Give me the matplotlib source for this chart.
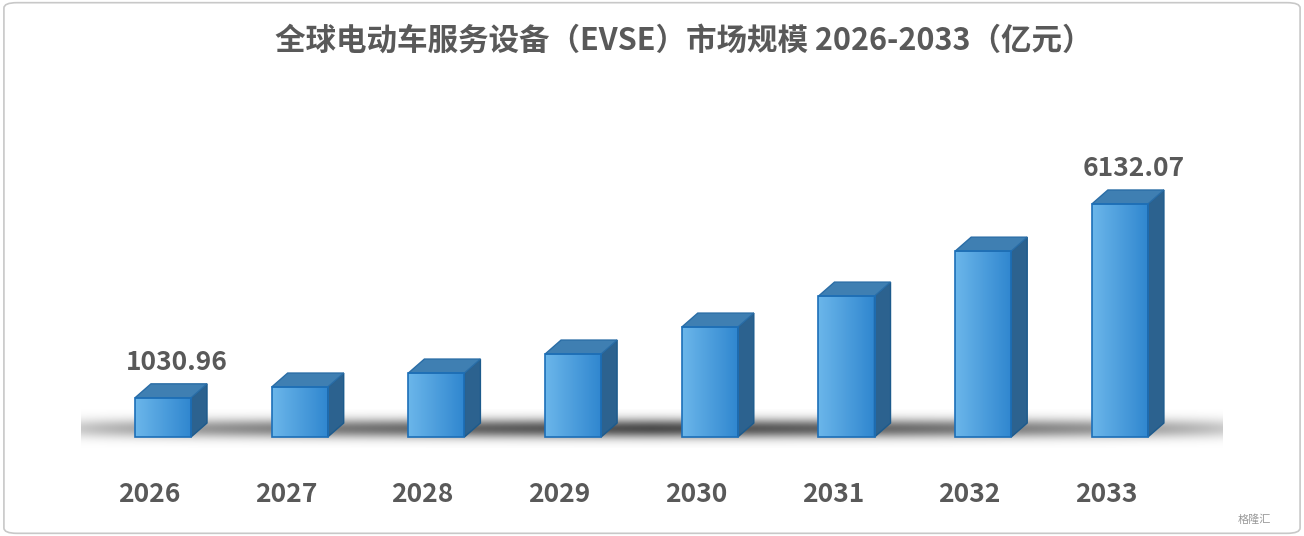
import matplotlib.pyplot as plt
import numpy as np
from matplotlib.patches import Polygon, FancyBboxPatch
from matplotlib.colors import LinearSegmentedColormap

plt.rcParams['font.family'] = ['Noto Sans CJK SC', 'DejaVu Sans']

years = ['2026', '2027', '2028', '2029', '2030', '2031', '2032', '2033']
values = [1030.96, 1315, 1683, 2183, 2893, 3708, 4891, 6132.07]
shown_labels = {0: '1030.96', 7: '6132.07'}

W, H = 1304, 536
fig = plt.figure(figsize=(W / 100, H / 100), dpi=100)
ax = fig.add_axes([0, 0, 1, 1])
px_x = 136.7          # pixels per category
px_y = 0.038          # pixels per value unit
base_px = 99
ax.set_xlim(-163 / px_x, (W - 163) / px_x)
ax.set_ylim(-base_px / px_y, (H - base_px) / px_y)
ax.axis('off')

# outer border
fig.patches.append(FancyBboxPatch((0.003, 0.005), 0.994, 0.99, boxstyle='round,pad=0,rounding_size=0.01',
                                  transform=fig.transFigure, fill=False, ec='#c8c8c8', lw=1.2))

# floor shadow
yy = np.linspace(0, 1, 60)[:, None]
xx = np.linspace(0, 1, 400)[None, :]
shade = np.exp(-((yy - 0.5) / 0.25) ** 2) * np.clip(1 - np.abs(xx - 0.5) * 1.9, 0, 1) ** 0.4
rgba = np.zeros(shade.shape + (4,))
rgba[..., 3] = shade * 0.7
ax.imshow(rgba, extent=(-0.6, 7.75, -300, 700), aspect='auto', zorder=1, origin='lower')

bw = 0.41
dx, dy = 0.117, 368
front_cmap = LinearSegmentedColormap.from_list('f', ['#6bb6ea', '#2f86cf'])
grad = np.linspace(0, 1, 100)[None, :]
for i, v in enumerate(values):
    x0, x1 = i - bw / 2, i + bw / 2
    im = ax.imshow(grad, cmap=front_cmap, extent=(x0, x1, 0, v), aspect='auto', zorder=3)
    rect = plt.Rectangle((x0, 0), bw, v, fc='none', ec='#1c6fb8', lw=1.2, zorder=4)
    ax.add_patch(rect)
    im.set_clip_path(rect)
    ax.add_patch(Polygon([(x1, 0), (x1 + dx, dy), (x1 + dx, v + dy), (x1, v)],
                         fc='#2c628f', ec='#1c5a8c', lw=1, zorder=3))
    ax.add_patch(Polygon([(x0, v), (x1, v), (x1 + dx, v + dy), (x0 + dx, v + dy)],
                         fc='#3f7fb2', ec='#2a6da6', lw=1, zorder=3))
    ax.text(i - 0.1, 42 / H, years[i], transform=ax.get_xaxis_transform(), ha='center', va='center',
            fontsize=19, fontweight='bold', color='#595959')
    if i in shown_labels:
        ax.text(i + 0.1, v + dy + 200, shown_labels[i], ha='center', va='bottom',
                fontsize=19, fontweight='bold', color='#595959', zorder=5)

fig.text(0.524, 0.925, '全球电动车服务设备（EVSE）市场规模 2026-2033（亿元）', ha='center', va='center',
         fontsize=22, fontweight='bold', color='#595959')
fig.text(0.975, 0.02, '格隆汇', ha='right', va='bottom', fontsize=8, color='#999999')

fig.savefig('out.png', dpi=100)
